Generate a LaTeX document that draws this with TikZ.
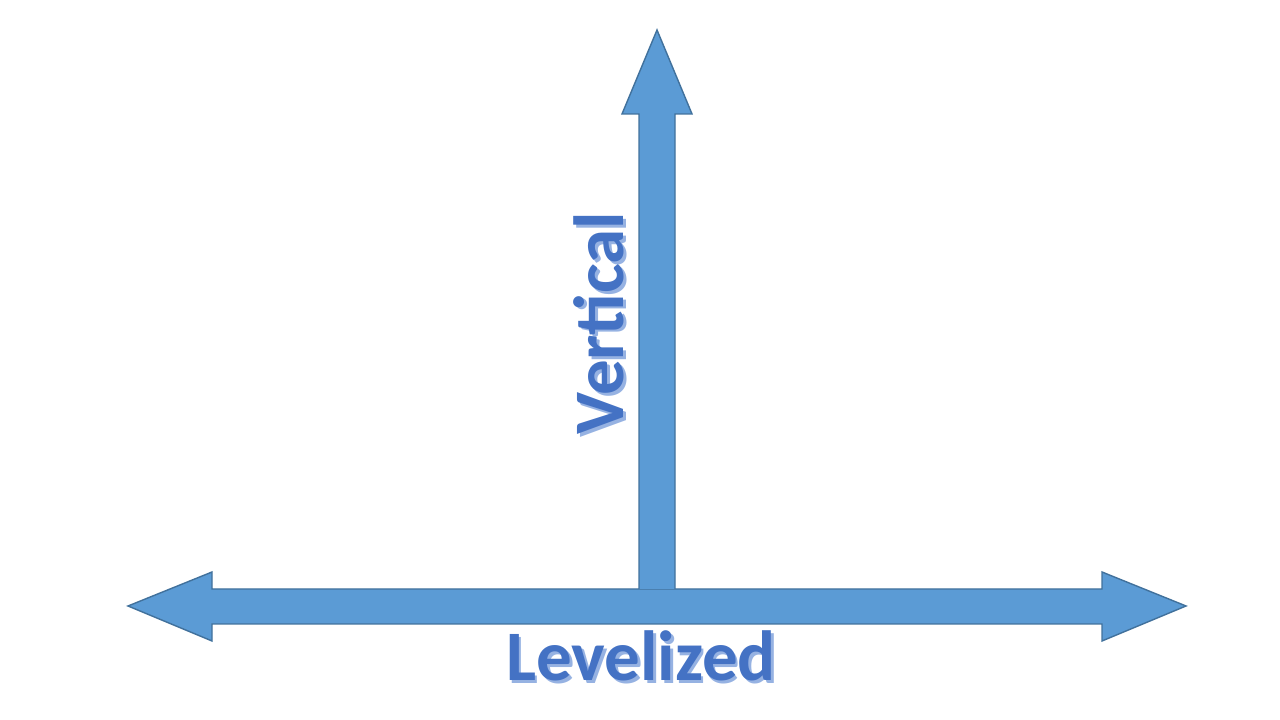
\documentclass[tikz,border=0pt]{standalone}
\usepackage{fontspec}
\setmainfont{Carlito}
\definecolor{axisfill}{RGB}{91,155,213}
\definecolor{axisline}{RGB}{65,113,156}
\definecolor{labelblue}{RGB}{68,114,196}
\definecolor{labelshade}{RGB}{150,178,226}
\usetikzlibrary{positioning}

\begin{document}
\begin{tikzpicture}[blockarrow/.style={fill=axisfill,draw=axisline,line width=0.4pt,line join=miter},
                    axislabel/.style={font=\fontsize{20.2}{24}\selectfont\bfseries,inner sep=0pt},
                    shade/.style={axislabel,text=labelshade},
                    face/.style={axislabel,text=labelblue}]
        \useasboundingbox (0,0) rectangle (12.8,7.2);
        % horizontal double arrow
        \filldraw[blockarrow] (1.28,1.14) -- (2.12,1.48) -- (2.12,1.31) -- (11.02,1.31)
                   -- (11.02,1.48) -- (11.86,1.14) -- (11.02,0.79) -- (11.02,0.96)
                   -- (2.12,0.96) -- (2.12,0.79) -- cycle;
        % vertical arrow
        \filldraw[blockarrow] (6.39,1.31) -- (6.39,6.06) -- (6.22,6.06) -- (6.57,6.90)
                   -- (6.92,6.06) -- (6.75,6.06) -- (6.75,1.31);
        % labels
        \node[shade,anchor=base] (levelshade) at ([shift={(0.8pt,-0.8pt)}]6.41,0.39) {Levelized};
        \node[face,anchor=base] (level) at (6.41,0.39) {Levelized};
        \node[shade,anchor=base,rotate=90] (vertshade) at ([shift={(0.8pt,-0.8pt)}]6.235,3.97) {Vertical};
        \node[face,anchor=base,rotate=90] (vert) at (6.235,3.97) {Vertical};
      \end{tikzpicture}
\end{document}
